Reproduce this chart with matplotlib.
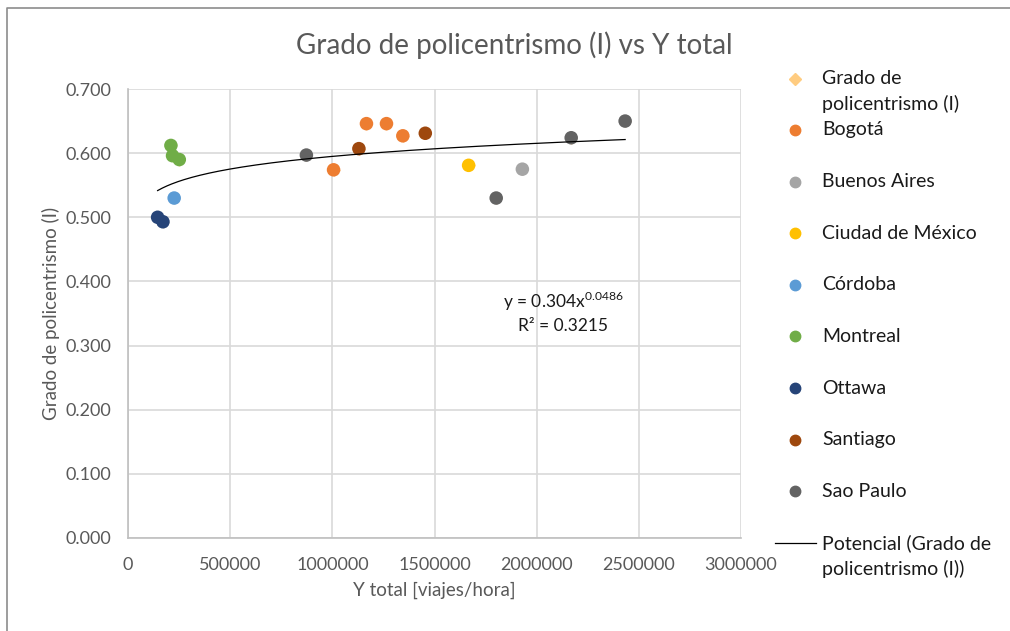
import numpy as np
import matplotlib.pyplot as plt
from matplotlib.lines import Line2D

# Data
cities = ["Bogotá", "Buenos Aires", "Ciudad de México", "Córdoba",
          "Montreal", "Ottawa", "Santiago", "Sao Paulo"]
city_x = [
    [1006000, 1167000, 1265000, 1345000],
    [1930000],
    [1667000],
    [226000],
    [210000, 218000, 251000],
    [145000, 171000],
    [1130000, 1455000],
    [873000, 1802000, 2169000, 2433000],
]
city_y = [
    [0.574, 0.646, 0.646, 0.627],
    [0.575],
    [0.581],
    [0.530],
    [0.612, 0.596, 0.590],
    [0.500, 0.493],
    [0.607, 0.631],
    [0.597, 0.530, 0.624, 0.650],
]
city_colors = ["#ED7D31", "#A5A5A5", "#FFC000", "#5B9BD5",
               "#70AD47", "#264478", "#9E480E", "#636363"]

# Power trend line shown on the chart
fit_a = 0.304
fit_b = 0.0486
fit_r2 = 0.3215

plt.rcParams['font.family'] = ['Lato', 'DejaVu Sans']
text_color = "#595959"

W, H = 1010, 631
fig = plt.figure(figsize=(W / 100, H / 100), dpi=100)
ax = fig.add_axes([128 / W, 1 - 538 / H, (741 - 128) / W, (538 - 89) / H])


def fx(px):
    return px / W


def fy(py):
    return 1 - py / H


# Whole series underneath (diamonds), then each city on top
all_x = np.concatenate([np.array(v, dtype=float) for v in city_x])
all_y = np.concatenate([np.array(v, dtype=float) for v in city_y])
ax.scatter(all_x, all_y, marker="D", s=30, color="#FFCC80", zorder=2)
for xs, ys, c in zip(city_x, city_y, city_colors):
    ax.scatter(xs, ys, s=95, color=c, edgecolors="none", zorder=3)

# Trend line
x_fit = np.linspace(all_x.min(), all_x.max(), 300)
ax.plot(x_fit, fit_a * x_fit ** fit_b, color="black", lw=0.9, zorder=4)
ax.text(2130000, 0.352,
        "y = %.3fx$^{\\mathregular{%.4f}}$\nR² = %.4f" % (fit_a, fit_b, fit_r2),
        ha="center", va="center", fontsize=12.5, color="#1a1a1a",
        linespacing=1.35)

# Axes formatting
ax.set_xlim(0, 3000000)
ax.set_ylim(0, 0.7)
ax.set_xticks(np.arange(0, 3000001, 500000))
ax.set_yticks(np.arange(0, 0.701, 0.1))
ax.set_xticklabels([str(int(v)) for v in ax.get_xticks()])
ax.set_yticklabels(["%.3f" % v for v in ax.get_yticks()])
ax.grid(True, color="#D9D9D9", lw=1.2)
ax.set_axisbelow(True)
for s in ["top", "right"]:
    ax.spines[s].set_visible(False)
for s in ["left", "bottom"]:
    ax.spines[s].set_color("#BFBFBF")
    ax.spines[s].set_linewidth(1.2)
ax.tick_params(length=0, labelsize=13, colors=text_color)
ax.tick_params(axis="y", pad=12)
ax.tick_params(axis="x", pad=14)

ax.set_xlabel("Y total [viajes/hora]", fontsize=13.5, color=text_color, labelpad=6)
ax.set_ylabel("Grado de policentrismo (I)", fontsize=13.5, color=text_color, labelpad=4)
fig.text(fx(514), fy(45), "Grado de policentrismo (I) vs Y total",
         ha="center", va="center", fontsize=20, color=text_color)

# Legend drawn by hand to follow the Excel layout
leg_mx, leg_tx = 795, 822
leg_fs = 14
dark = "#1a1a1a"
fig.add_artist(Line2D([fx(leg_mx)], [fy(79)], marker="D", markersize=6.5,
                      color="#FFCC80", lw=0))
fig.text(fx(leg_tx), fy(78), "Grado de", fontsize=leg_fs, va="center", color=dark)
fig.text(fx(leg_tx), fy(104), "policentrismo (I)", fontsize=leg_fs, va="center", color=dark)
for i, (name, c) in enumerate(zip(cities, city_colors)):
    yy = 130 + i * 51.6
    fig.add_artist(Line2D([fx(leg_mx)], [fy(yy)], marker="o", markersize=7.5,
                          color=c, lw=0))
    fig.text(fx(leg_tx), fy(yy), name, fontsize=leg_fs, va="center", color=dark)
fig.add_artist(Line2D([fx(775), fx(816)], [fy(543), fy(543)], color="black", lw=0.9))
fig.text(fx(leg_tx), fy(543), "Potencial (Grado de", fontsize=leg_fs, va="center", color=dark)
fig.text(fx(leg_tx), fy(569), "policentrismo (I))", fontsize=leg_fs, va="center", color=dark)

# Chart area border (left and top edges visible)
fig.add_artist(Line2D([fx(7), fx(7), fx(W)], [0, fy(8), fy(8)], color="#8C8C8C", lw=1.2))

fig.savefig("out.png", dpi=100)
